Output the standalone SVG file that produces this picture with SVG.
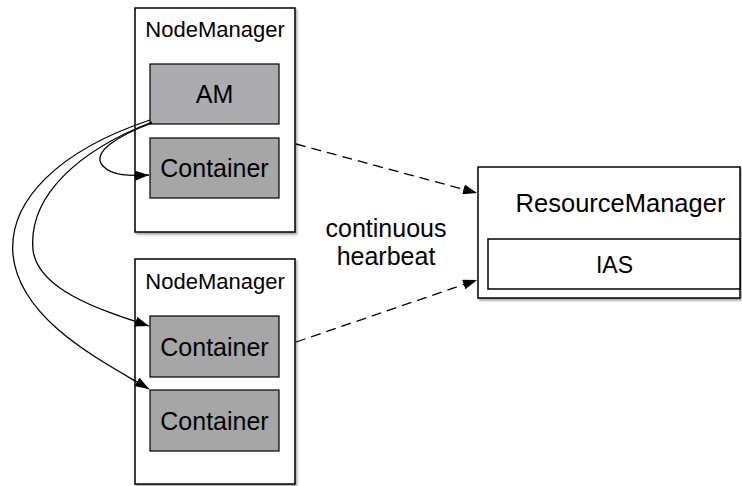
<svg xmlns="http://www.w3.org/2000/svg" width="742" height="486" viewBox="0 0 742 486">
<defs>
<style>
.box{fill:#fff;stroke:#000;stroke-width:1.5}
.am{fill:#acacb0;stroke:#000;stroke-width:1.2}
.ct{fill:#a6a6a6;stroke:#000;stroke-width:1.2}
.t{font-family:"Liberation Sans",Arial,sans-serif;fill:#000;text-anchor:middle}
.curve{fill:none;stroke:#000;stroke-width:1.3}
.dash{fill:none;stroke:#000;stroke-width:1.3;stroke-dasharray:10,6}
</style>
<filter id="sh" x="-10%" y="-10%" width="130%" height="130%">
<feDropShadow dx="1.5" dy="2" stdDeviation="1.2" flood-color="#000" flood-opacity="0.35"/>
</filter>
<marker id="ah" viewBox="0 0 14 10" refX="14" refY="5" markerWidth="14" markerHeight="10" markerUnits="userSpaceOnUse" orient="auto">
<path d="M0,0 L14,5 L0,10 z" fill="#000"/>
</marker>
</defs>
<g id="nm1">
<rect class="box" x="135" y="8" width="160" height="224" filter="url(#sh)"/>
<text class="t" x="215" y="37" font-size="22">NodeManager</text>
</g>
<g id="am">
<rect class="am" x="150" y="64" width="129" height="60"/>
<text class="t" x="214.5" y="103" font-size="25">AM</text>
</g>
<g id="c1">
<rect class="ct" x="150" y="138" width="129" height="60"/>
<text class="t" x="214.5" y="177" font-size="25">Container</text>
</g>
<g id="nm2">
<rect class="box" x="135" y="259" width="160" height="225" filter="url(#sh)"/>
<text class="t" x="215" y="289" font-size="22">NodeManager</text>
</g>
<g id="c2">
<rect class="ct" x="150" y="316" width="129" height="61"/>
<text class="t" x="214.5" y="356" font-size="25">Container</text>
</g>
<g id="c3">
<rect class="ct" x="150" y="390" width="129" height="61"/>
<text class="t" x="214.5" y="430" font-size="25">Container</text>
</g>
<g id="rm">
<rect class="box" x="478" y="167" width="262" height="131" filter="url(#sh)"/>
<text class="t" x="620.5" y="212" font-size="25.5">ResourceManager</text>
</g>
<g id="ias">
<rect class="box" x="488" y="239" width="252" height="50"/>
<text class="t" x="614.5" y="273" font-size="23">IAS</text>
</g>
<g id="label">
<text class="t" x="386" y="237" font-size="25">continuous</text>
<text class="t" x="386" y="265" font-size="25">hearbeat</text>
</g>
<g id="connectors">
<path class="curve" d="M152,123 C120,135 90,152 103,166 C112,176 130,176 149,175" marker-end="url(#ah)"/>
<path class="curve" d="M152,122 C80,150 28,195 33,250 C38,290 100,310 149,326" marker-end="url(#ah)"/>
<path class="curve" d="M150,120 C60,150 8,200 13,255 C20,320 100,360 149,389" marker-end="url(#ah)"/>
<path class="dash" d="M296,144 L477,193" marker-end="url(#ah)"/>
<path class="dash" d="M296,342 L477,280" marker-end="url(#ah)"/>
</g>
</svg>
